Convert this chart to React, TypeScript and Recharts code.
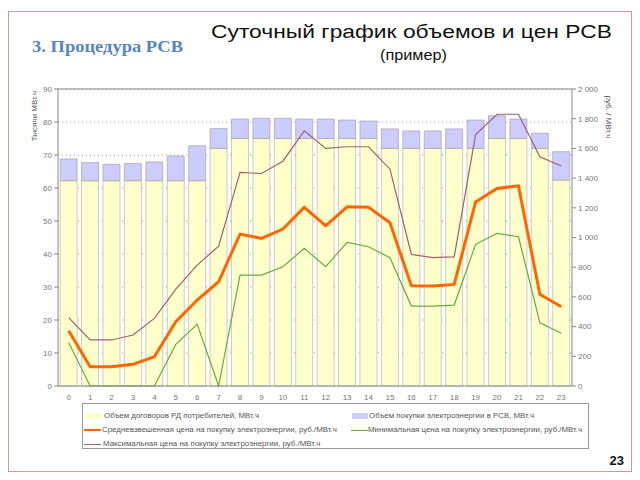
import React from "react";
import {
  ComposedChart,
  Bar,
  Line,
  XAxis,
  YAxis,
  CartesianGrid,
  ReferenceLine,
} from "recharts";

// hours of the day
const HOURS = ["0", "1", "2", "3", "4", "5", "6", "7", "8", "9", "10", "11", "12", "13", "14", "15", "16", "17", "18", "19", "20", "21", "22", "23"];

// volumes, thousand MWh
const CONTRACT_VOL = [62.2, 62.2, 62.2, 62.2, 62.2, 62.2, 62.2, 72, 75, 75, 75, 75, 75, 75, 75, 72, 72, 72, 72, 72, 75, 75, 72, 62.4];
const RSV_VOL = [6.6, 5.5, 5.0, 5.2, 5.7, 7.5, 10.6, 6, 5.9, 6.1, 6.1, 5.9, 5.9, 5.6, 5.3, 5.9, 5.3, 5.3, 5.9, 8.6, 6.9, 5.9, 4.6, 8.6];

// prices, rub/MWh
const AVG_PRICE = [372, 130, 130, 146, 197, 433, 579, 702, 1023, 994, 1057, 1203, 1079, 1207, 1203, 1099, 675, 673, 684, 1240, 1330, 1348, 617, 534];
const MAX_PRICE = [460, 310, 310, 343, 455, 653, 814, 942, 1438, 1431, 1514, 1718, 1600, 1611, 1611, 1460, 886, 864, 870, 1694, 1830, 1830, 1543, 1481];
const MIN_PRICE = [291, 0, 0, 0, 0, 280, 415, 0, 747, 747, 803, 927, 803, 967, 938, 864, 538, 538, 545, 954, 1028, 1005, 426, 355];

const LEFT_TICKS = [0, 10, 20, 30, 40, 50, 60, 70, 80, 90];
const RIGHT_TICKS = [0, 200, 400, 600, 800, 1000, 1200, 1400, 1600, 1800, 2000];

const data = HOURS.map((h, i) => ({
  hour: h,
  contract: CONTRACT_VOL[i],
  rsv: RSV_VOL[i],
  avg: AVG_PRICE[i],
  max: MAX_PRICE[i],
  min: MIN_PRICE[i],
}));

const fmtRub = (v: number) => (v >= 1000 ? `${Math.floor(v / 1000)} ${String(v % 1000).padStart(3, "0")}` : `${v}`);

const tickStyle = { fontSize: 8, fill: "#777" };

const MAX_COLOR = "#9a6072";

function LegendBox() {
  const text: React.CSSProperties = { position: "absolute", fontSize: 7.9, color: "#555", whiteSpace: "nowrap", lineHeight: "10px" };
  const swatch = (left: number, top: number, color: string) => (
    <div style={{ position: "absolute", left, top, width: 16, height: 6, background: color }} />
  );
  const line = (left: number, top: number, color: string, h: number) => (
    <div style={{ position: "absolute", left, top, width: 17, height: h, background: color }} />
  );
  return (
    <div style={{ position: "absolute", left: 82, top: 403, width: 507, height: 46, border: "1px solid #999", boxSizing: "border-box", background: "#fff" }}>
      {swatch(2, 9, "#ffffcc")}
      <div style={{ ...text, left: 21, top: 7 }}>Объем договоров РД потребителей, МВт.ч</div>
      {swatch(269, 9, "#ccccff")}
      <div style={{ ...text, left: 286, top: 7 }}>Объем покупки электроэнергии в РСВ, МВт.ч</div>
      {line(1, 25, "#ff6600", 2)}
      <div style={{ ...text, left: 19, top: 21 }}>Средневзвешенная цена на покупку электроэнергии, руб./МВт.ч</div>
      {line(268, 26, "#66aa44", 1)}
      <div style={{ ...text, left: 285, top: 21 }}>Минимальная цена на покупку электроэнергии, руб./МВт.ч</div>
      {line(1, 40, MAX_COLOR, 1)}
      <div style={{ ...text, left: 20, top: 35 }}>Максимальная цена на покупку электроэнергии, руб./МВт.ч</div>
    </div>
  );
}

export default function App() {
  return (
    <div style={{ position: "absolute", left: 0, top: 0, width: 640, height: 480, background: "#fff", fontFamily: "'Liberation Sans', Arial, sans-serif" }}>
      <div style={{ position: "absolute", left: 8, top: 11, width: 622, height: 459, border: "1px solid #c99a9a" }} />
      <ComposedChart
        width={640}
        height={480}
        data={data}
        margin={{ top: 89, right: 0, bottom: 74, left: 0 }}
        barCategoryGap="10%"
        style={{ position: "absolute", left: 0, top: 0 }}
      >
        <CartesianGrid yAxisId="left" vertical={false} stroke="#999" strokeDasharray="1 3" />
        <XAxis dataKey="hour" height={20} tickLine={false} axisLine={{ stroke: "#888" }} tick={tickStyle} interval={0} />
        <YAxis
          yAxisId="left"
          width={58}
          domain={[0, 90]}
          ticks={LEFT_TICKS}
          tick={tickStyle}
          tickSize={4}
          axisLine={{ stroke: "#888" }}
          tickLine={{ stroke: "#888" }}
        />
        <YAxis
          yAxisId="right"
          orientation="right"
          width={68}
          domain={[0, 2000]}
          ticks={RIGHT_TICKS}
          tick={tickStyle}
          tickSize={4}
          tickFormatter={fmtRub}
          axisLine={{ stroke: "#888" }}
          tickLine={{ stroke: "#888" }}
        />
        <ReferenceLine yAxisId="left" y={90} stroke="#888" />
        <Bar yAxisId="left" dataKey="contract" stackId="v" fill="#ffffcc" stroke="#aaa" strokeWidth={0.6} isAnimationActive={false} />
        <Bar yAxisId="left" dataKey="rsv" stackId="v" fill="#ccccff" stroke="#999" strokeWidth={0.6} isAnimationActive={false} />
        <Line yAxisId="right" dataKey="max" stroke={MAX_COLOR} strokeWidth={1.2} dot={false} isAnimationActive={false} />
        <Line yAxisId="right" dataKey="min" stroke="#66aa44" strokeWidth={1.2} dot={false} isAnimationActive={false} />
        <Line yAxisId="right" dataKey="avg" stroke="#ff6600" strokeWidth={3} dot={false} isAnimationActive={false} />
      </ComposedChart>
      <LegendBox />
      <svg width={640} height={480} style={{ position: "absolute", left: 0, top: 0, pointerEvents: "none" }}>
        <text x={35} y={116} transform="rotate(-90 35 116)" textAnchor="middle" dominantBaseline="middle" fontSize={8} fill="#555">
          Тысячи МВт.ч
        </text>
        <text x={608} y={117} transform="rotate(90 608 117)" textAnchor="middle" dominantBaseline="middle" fontSize={8} fill="#555">
          руб. / МВт.ч
        </text>
        <text x={32} y={52} fontFamily="'Liberation Serif', 'DejaVu Serif', serif" fontWeight="bold" fontSize={17} fill="#5585c4" textLength={151} lengthAdjust="spacingAndGlyphs">
          3. Процедура РСВ
        </text>
        <text x={211} y={38} fontSize={19} fill="#111" textLength={401} lengthAdjust="spacingAndGlyphs">
          Суточный график объемов и цен РСВ
        </text>
        <text x={380} y={60} fontSize={14} fill="#111" textLength={67} lengthAdjust="spacingAndGlyphs">
          (пример)
        </text>
        <text x={624} y={465} textAnchor="end" fontSize={13} fontWeight="bold" fill="#111">
          23
        </text>
      </svg>
    </div>
  );
}
